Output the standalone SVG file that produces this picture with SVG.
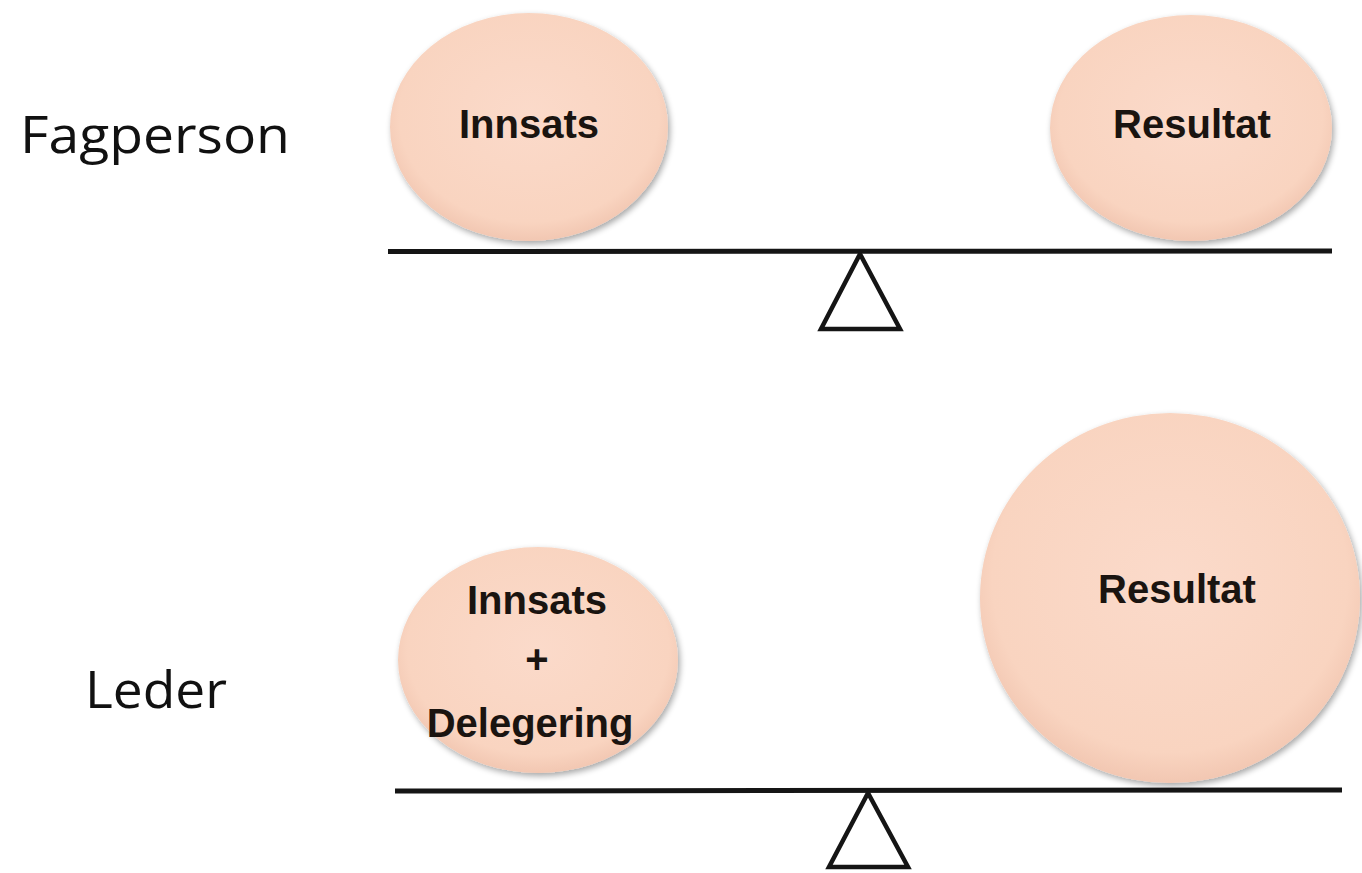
<svg xmlns="http://www.w3.org/2000/svg" width="1362" height="873" viewBox="0 0 1362 873">
<defs>
<radialGradient id="peach" cx="50%" cy="45%" r="55%">
<stop offset="0%" stop-color="#FBDACA"/>
<stop offset="85%" stop-color="#F9D4C0"/>
<stop offset="100%" stop-color="#F2C7B2"/>
</radialGradient>
<filter id="shadow" x="-10%" y="-10%" width="125%" height="125%">
<feGaussianBlur in="SourceAlpha" stdDeviation="3"/>
<feOffset dx="2" dy="3" result="b"/>
<feComponentTransfer><feFuncA type="linear" slope="0.35"/></feComponentTransfer>
<feMerge><feMergeNode/><feMergeNode in="SourceGraphic"/></feMerge>
</filter>
</defs>
<style>
.bubble{fill:url(#peach);filter:url(#shadow);}
.blabel{font-family:"Liberation Sans",Arial,sans-serif;font-weight:bold;font-size:40px;fill:#1a1410;text-anchor:middle;}
.side{font-family:"Open Sans","Liberation Sans",Arial,sans-serif;font-size:52px;fill:#111;}
.beam{stroke:#151515;stroke-width:5;stroke-linecap:butt;fill:none;}
.fulcrum{stroke:#151515;stroke-width:4.5;fill:#fff;stroke-linejoin:miter;}
</style>
<rect width="1362" height="873" fill="#fff"/>
<g id="label-fagperson"><text class="side" x="20" y="153" textLength="270" lengthAdjust="spacingAndGlyphs">Fagperson</text></g>
<g id="label-leder"><text class="side" x="85" y="708" textLength="142" lengthAdjust="spacingAndGlyphs">Leder</text></g>
<g id="top-innsats">
<ellipse class="bubble" cx="529" cy="127" rx="139" ry="114"/>
<text class="blabel" x="529" y="138">Innsats</text>
</g>
<g id="top-resultat">
<ellipse class="bubble" cx="1191" cy="128" rx="141" ry="113"/>
<text class="blabel" x="1192" y="138">Resultat</text>
</g>
<g id="bottom-innsats">
<ellipse class="bubble" cx="538" cy="660" rx="140" ry="113"/>
<text class="blabel" x="537" y="614">Innsats</text>
<text class="blabel" x="537" y="673">+</text>
<text class="blabel" x="530" y="737">Delegering</text>
</g>
<g id="bottom-resultat">
<ellipse class="bubble" cx="1170" cy="598" rx="190" ry="185"/>
<text class="blabel" x="1177" y="603">Resultat</text>
</g>
<g id="connectors">
<line class="beam" x1="388" y1="251.5" x2="1332" y2="251"/>
<polygon class="fulcrum" points="860,254 821,329 900,329"/>
<line class="beam" x1="395" y1="791" x2="1342" y2="790"/>
<polygon class="fulcrum" points="868,793 829,867 908,867"/>
</g>
</svg>
